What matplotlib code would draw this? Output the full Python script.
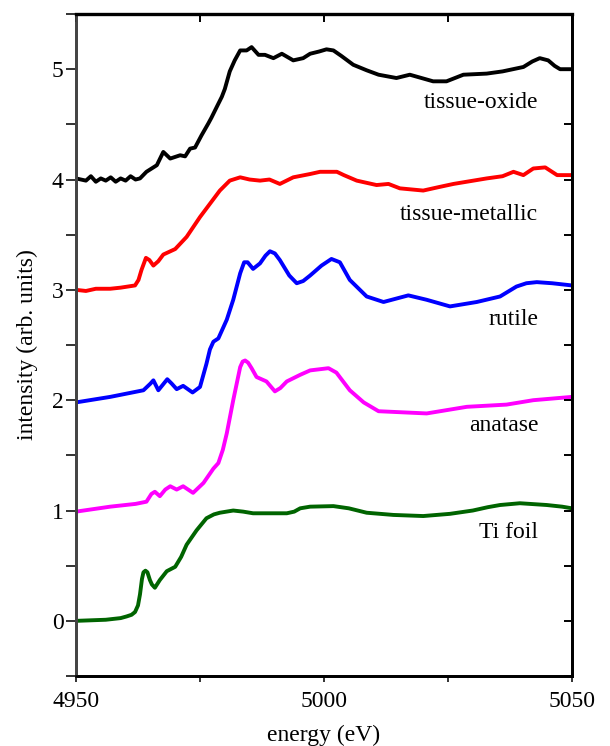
import matplotlib
matplotlib.use("Agg")
import matplotlib.pyplot as plt
from matplotlib.ticker import MultipleLocator

plt.rcParams['font.family'] = ['Liberation Serif', 'DejaVu Serif']

# Ti foil (offset 0)
e_foil = [4950, 4956, 4959, 4960.2, 4961.2, 4961.9, 4962.5, 4962.9, 4963.3, 4963.6, 4964.0,
          4964.4, 4964.9, 4965.3, 4965.9, 4966.9, 4968.3, 4970, 4971.2, 4972.3, 4974.3,
          4976.3, 4977.8, 4979, 4981.7, 4983.7, 4985.7, 4989, 4992.5, 4994, 4995.2,
          4997.2, 5001.9, 5005, 5008.6, 5014, 5020, 5025.4, 5030, 5033, 5035.5, 5039.5,
          5044.9, 5048, 5050]
v_foil = [0.0, 0.01, 0.025, 0.04, 0.055, 0.08, 0.14, 0.24, 0.38, 0.44, 0.455,
          0.44, 0.37, 0.33, 0.30, 0.37, 0.45, 0.49, 0.58, 0.69, 0.82,
          0.93, 0.965, 0.98, 1.0, 0.99, 0.975, 0.975, 0.975, 0.99, 1.02,
          1.035, 1.04, 1.02, 0.98, 0.96, 0.95, 0.97, 1.0, 1.03, 1.05, 1.066,
          1.05, 1.035, 1.02]

# anatase (offset 1)
e_anat = [4950, 4956.9, 4962, 4964.2, 4965.2, 4965.9, 4966.9, 4968, 4969, 4970.3, 4971.6,
          4972.6, 4973.6, 4975.7, 4977.7, 4978.7, 4979.6, 4980.4, 4981.7, 4983.1, 4983.6,
          4984.1, 4984.7, 4985.4, 4986.4, 4988.4, 4990.1, 4991.2, 4992.5, 4995.2, 4997.2,
          5000.9, 5002.5, 5005.2, 5008, 5011, 5020.7, 5028.8, 5036.8, 5042.2, 5050]
v_anat = [0.99, 1.035, 1.06, 1.08, 1.15, 1.17, 1.13, 1.19, 1.22, 1.19, 1.22,
          1.19, 1.16, 1.25, 1.38, 1.43, 1.55, 1.70, 2.0, 2.30, 2.35,
          2.36, 2.34, 2.29, 2.21, 2.17, 2.08, 2.11, 2.17, 2.23, 2.27,
          2.29, 2.25, 2.09, 1.98, 1.90, 1.88, 1.94, 1.96, 2.0, 2.03]

# rutile (offset 2)
e_rut = [4950, 4956.9, 4963.6, 4965.0, 4965.6, 4966.6, 4967.5, 4968.4, 4969.3, 4970.3, 4971.6,
         4973.5, 4975, 4976.3, 4977.0, 4977.7, 4978.7, 4980.4, 4981.7, 4983.1, 4983.9,
         4984.6, 4985.7, 4987.1, 4988.2, 4989.1, 4990.1, 4991.1, 4993, 4994.5, 4995.8,
         4997.2, 4999.5, 5001.5, 5003.2, 5005.2, 5008.6, 5012, 5014.5, 5017, 5020.7,
         5025.4, 5030.8, 5035.5, 5038.8, 5040.8, 5042.9, 5046, 5050]
v_rut = [1.98, 2.03, 2.09, 2.15, 2.18, 2.09, 2.14, 2.19, 2.15, 2.10, 2.13,
         2.07, 2.12, 2.33, 2.46, 2.53, 2.56, 2.73, 2.91, 3.15, 3.25,
         3.25, 3.19, 3.24, 3.31, 3.35, 3.33, 3.27, 3.13, 3.06, 3.08,
         3.13, 3.22, 3.28, 3.25, 3.09, 2.94, 2.89, 2.92, 2.95, 2.91,
         2.85, 2.89, 2.94, 3.03, 3.06, 3.07, 3.06, 3.04]

# tissue-metallic (offset 3)
e_met = [4950, 4952, 4954, 4956.9, 4959, 4961.9, 4962.6, 4963.2, 4964.1, 4964.8, 4965.6,
         4966.6, 4967.6, 4970, 4972.3, 4975, 4977, 4979, 4981, 4983.1, 4985, 4987.1,
         4989, 4991.1, 4993.8, 4997.2, 4999.2, 5002.6, 5004, 5006.6, 5010.6, 5013,
         5015.3, 5020, 5023, 5026.1, 5032.8, 5036, 5038.2, 5040.2, 5042.2, 5044.6,
         5047, 5050]
v_met = [3.0, 2.99, 3.01, 3.01, 3.02, 3.04, 3.09, 3.18, 3.29, 3.27, 3.22,
         3.26, 3.32, 3.37, 3.48, 3.66, 3.78, 3.90, 3.99, 4.02, 4.0, 3.99,
         4.0, 3.96, 4.02, 4.05, 4.07, 4.07, 4.04, 3.99, 3.95, 3.96,
         3.92, 3.90, 3.93, 3.96, 4.01, 4.03, 4.07, 4.04, 4.10, 4.11,
         4.04, 4.04]

# tissue-oxide (offset 4)
e_ox = [4950, 4951, 4952, 4953, 4954, 4955, 4956, 4957, 4958, 4959,
        4960, 4961, 4962, 4962.9, 4964.2, 4966.3, 4967.6, 4969, 4971, 4972,
        4973, 4974, 4975.3, 4976.7, 4977.3, 4978.4, 4979.4, 4980, 4981, 4982,
        4983.1, 4984.4, 4985.4, 4986.8, 4988.1, 4989.8, 4991.5, 4993.8, 4995.8, 4997.2,
        4999, 5000.5, 5001.9, 5003.5, 5005.9, 5008.6, 5011, 5014.6, 5017.3, 5022,
        5024.7, 5028.1, 5032.8, 5036, 5040.2, 5042, 5043.5, 5045.2, 5046.5, 5047.6, 5050]
v_ox = [4.01, 4.0, 3.99, 4.03, 3.98, 4.01, 3.99, 4.02, 3.98, 4.01,
        3.99, 4.03, 4.0, 4.01, 4.07, 4.13, 4.25, 4.19, 4.22, 4.21,
        4.28, 4.29, 4.40, 4.51, 4.56, 4.66, 4.75, 4.82, 4.98, 5.08,
        5.17, 5.17, 5.20, 5.13, 5.13, 5.10, 5.14, 5.08, 5.10, 5.14,
        5.16, 5.18, 5.17, 5.12, 5.04, 4.99, 4.95, 4.92, 4.95, 4.89,
        4.89, 4.95, 4.96, 4.98, 5.02, 5.07, 5.10, 5.08, 5.03, 5.0, 5.0]

names = ["Ti foil", "anatase", "rutile", "tissue-metallic", "tissue-oxide"]
label_y = [0.80, 1.77, 2.73, 3.68, 4.70]
colors = ["#006400", "#ff00ff", "#0000ff", "#ff0000", "#000000"]
series = [(e_foil, v_foil), (e_anat, v_anat), (e_rut, v_rut), (e_met, v_met), (e_ox, v_ox)]

fig = plt.figure(figsize=(6.1, 7.46), dpi=100)
ax = fig.add_axes([0.1246, 0.0938, 0.8131, 0.8874])

for (e, v), c, name, ly in zip(series, colors, names, label_y):
    ax.plot(e, v, color=c, lw=2.8, solid_capstyle="round", solid_joinstyle="round")
    ax.text(5043.2, ly, name, ha="right", va="center", fontsize=17)

ax.set_xlim(4950, 5050)
ax.set_ylim(-0.5, 5.5)

ax.xaxis.set_major_locator(MultipleLocator(50))
ax.xaxis.set_minor_locator(MultipleLocator(25))
ax.yaxis.set_major_locator(MultipleLocator(1))
ax.yaxis.set_minor_locator(MultipleLocator(0.5))

ax.tick_params(axis="both", which="both", labelsize=17, color="#333333", width=1.4)
ax.tick_params(axis="y", which="both", direction="out", length=7, pad=2, right=False)
ax.tick_params(axis="x", which="both", direction="out", length=4, pad=7, top=False)

# inward ticks on right and top via twin axes
axr = ax.twinx()
axr.set_ylim(ax.get_ylim())
axr.yaxis.set_major_locator(MultipleLocator(0.5))
axr.tick_params(axis="y", direction="in", length=6, width=1.4, labelright=False)
axt = ax.twiny()
axt.set_xlim(ax.get_xlim())
axt.xaxis.set_major_locator(MultipleLocator(25))
axt.tick_params(axis="x", direction="in", length=6, width=1.4, labeltop=False)

for a in (ax, axr, axt):
    for s in a.spines.values():
        s.set_linewidth(1.8)
        s.set_color("black")
ax.spines["left"].set_color("#444444")
axr.spines["left"].set_color("#444444")
axt.spines["left"].set_color("#444444")
axt.spines["top"].set_linewidth(2.4)

ax.set_xlabel("energy (eV)", fontsize=17, labelpad=9)
ax.set_ylabel("intensity (arb. units)", fontsize=17, labelpad=10)

fig.savefig("out.png", dpi=100)
